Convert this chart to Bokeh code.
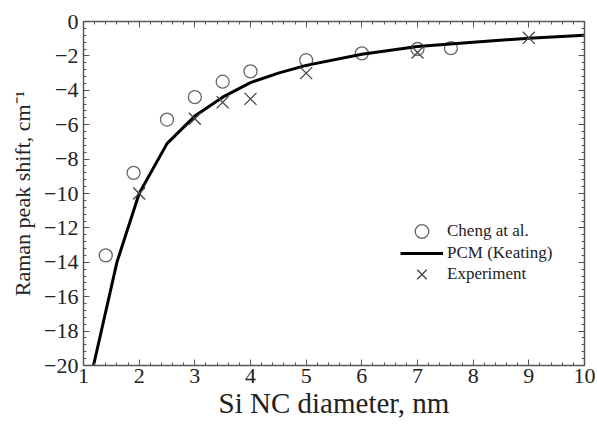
from bokeh.plotting import figure
from bokeh.models import (LinearAxis, Range1d, FixedTicker, Legend, LegendItem,
                          CustomLabelingPolicy)
from bokeh.embed import file_html
from bokeh.resources import INLINE

# Cheng et al. calculated shifts
cheng_d = [1.4, 1.9, 2.5, 3.0, 3.5, 4.0, 5.0, 6.0, 7.0, 7.6]
cheng_shift = [-13.6, -8.8, -5.7, -4.4, -3.5, -2.9, -2.25, -1.85, -1.6, -1.55]

# Phonon confinement model (Keating)
pcm_d = [1.18, 1.6, 2.0, 2.5, 3.0, 3.5, 4.0, 4.5, 5.0, 6.0, 7.0, 8.0, 9.0, 10.0]
pcm_shift = [-20.0, -14.0, -10.0, -7.1, -5.5, -4.4, -3.55, -3.0, -2.55, -1.9, -1.45, -1.2, -0.97, -0.8]

# Measured shifts
exp_d = [2.0, 3.0, 3.5, 4.0, 5.0, 7.0, 9.0]
exp_shift = [-10.0, -5.65, -4.7, -4.5, -3.0, -1.8, -0.95]

x_ticks = [1, 2, 3, 4, 5, 6, 7, 8, 9, 10]
y_ticks = [0, -2, -4, -6, -8, -10, -12, -14, -16, -18, -20]

legend_labels = ["Cheng at al.", "PCM (Keating)", "Experiment"]

FONT = "Liberation Serif"
AX = "#555555"
TXT = "#222222"

p = figure(width=597, height=429, output_backend="svg", toolbar_location=None,
           x_range=Range1d(1, 10), y_range=Range1d(-20, 0),
           min_border_left=83, min_border_right=13, min_border_top=21, min_border_bottom=64)
p.grid.visible = False
p.outline_line_color = None
p.background_fill_color = "white"
p.border_fill_color = "white"


def style_axis(ax, labels=True):
    ax.axis_line_color = AX
    ax.axis_line_width = 1.5
    ax.major_tick_line_color = AX
    ax.minor_tick_line_color = AX
    ax.major_tick_in = 6
    ax.major_tick_out = 0
    ax.minor_tick_in = 3
    ax.minor_tick_out = 0
    ax.major_label_text_font = FONT
    ax.major_label_text_font_size = "22px"
    ax.major_label_text_color = TXT
    if not labels:
        # mirror axes carry ticks only
        ax.major_label_text_font_size = "1px"
        ax.major_label_policy = CustomLabelingPolicy(
            code="for (const i of indices) { indices.unset(i) } return indices")
        ax.major_label_standoff = 0


xt = FixedTicker(ticks=x_ticks, minor_ticks=[1 + 0.2 * i for i in range(46)])
yt = FixedTicker(ticks=y_ticks, minor_ticks=[-0.4 * i for i in range(51)])

p.xaxis.ticker = xt
p.yaxis.ticker = yt
style_axis(p.xaxis[0])
style_axis(p.yaxis[0])
p.xaxis.major_label_standoff = 3
p.yaxis.major_label_standoff = 5
p.xaxis.axis_label = "Si NC diameter, nm"
p.xaxis.axis_label_text_font = FONT
p.xaxis.axis_label_text_font_style = "normal"
p.xaxis.axis_label_text_font_size = "29px"
p.xaxis.axis_label_text_color = TXT
p.xaxis.axis_label_standoff = 1
p.yaxis.axis_label = "Raman peak shift, cm\u207b\u00b9"
p.yaxis.axis_label_text_font = FONT
p.yaxis.axis_label_text_font_style = "normal"
p.yaxis.axis_label_text_font_size = "22px"
p.yaxis.axis_label_text_color = TXT
p.yaxis.axis_label_standoff = 6

top = LinearAxis(ticker=FixedTicker(ticks=x_ticks, minor_ticks=xt.minor_ticks))
style_axis(top, labels=False)
p.add_layout(top, "above")
right = LinearAxis(ticker=FixedTicker(ticks=y_ticks, minor_ticks=yt.minor_ticks))
style_axis(right, labels=False)
p.add_layout(right, "right")

r_c = p.scatter(cheng_d, cheng_shift, marker="circle", size=13, fill_color=None,
                line_color="#666666", line_width=1.3)
r_l = p.line(pcm_d, pcm_shift, line_color="black", line_width=3)
r_x = p.scatter(exp_d, exp_shift, marker="x", size=17, line_color="#444444", line_width=1.3)

# one single-row legend per entry so rows can sit closer than the glyph box height
for lbl, rend, ypos in zip(legend_labels, [r_c, r_l, r_x], [117, 95, 74]):
    lg = Legend(items=[LegendItem(label=lbl, renderers=[rend])],
                location=(317, ypos), border_line_color=None, background_fill_alpha=0,
                label_text_font=FONT, label_text_font_size="17px",
                label_text_color=TXT, glyph_width=43, glyph_height=34,
                label_standoff=4, spacing=0, padding=0, margin=0)
    p.add_layout(lg, "center")

open("out.html", "w").write(file_html(p, INLINE))
